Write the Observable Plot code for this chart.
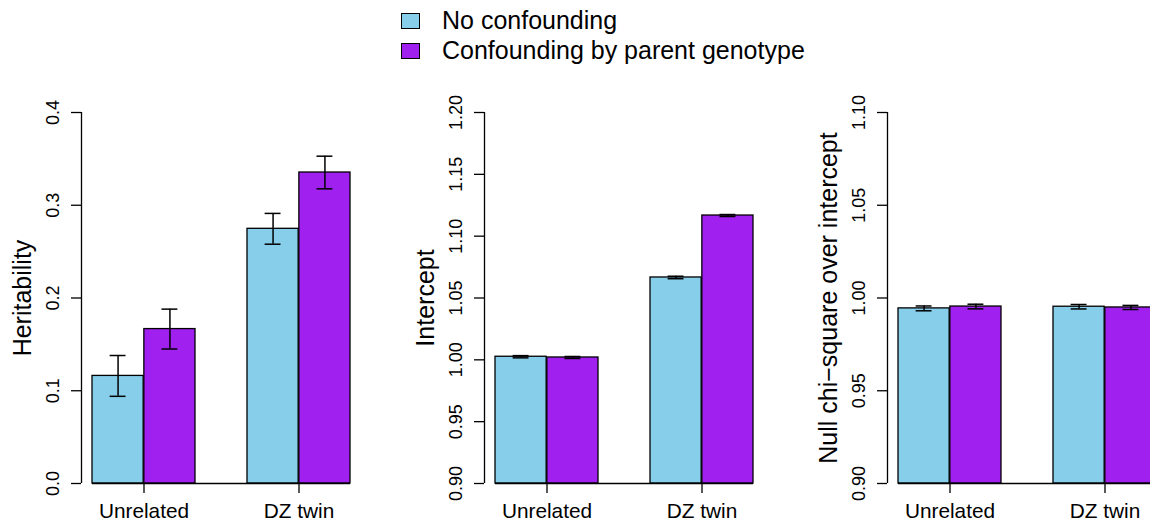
<!DOCTYPE html>
<html>
<head>
<meta charset="utf-8">
<script src="https://cdn.jsdelivr.net/npm/d3@7"></script>
<script src="https://cdn.jsdelivr.net/npm/@observablehq/plot@0.6"></script>
<style>
html, body { margin: 0; padding: 0; background: #fff; overflow: hidden; }
#wrap { position: relative; width: 1150px; height: 525px; overflow: hidden; font-family: "Liberation Sans", Arial, sans-serif; background: #fff; }
.panel { position: absolute; top: 0; }
.lg-box { position: absolute; width: 17px; height: 14px; border: 1.3px solid #000; }
.lg-text { position: absolute; font-size: 25px; line-height: 30px; white-space: nowrap; color: #000; }
</style>
</head>
<body>
<div id="wrap"></div>
<script>
// ---- data ----
const groups = ["Unrelated", "DZ twin"];
const series = ["No confounding", "Confounding by parent genotype"];
const colors = ["#87CEEB", "#A020F0"];

// order of values: [Unrelated/No, Unrelated/Conf, DZ/No, DZ/Conf]
const heritability    = [0.116, 0.1665, 0.2746, 0.3353];
const heritabilityErr = [0.022, 0.0215, 0.0166, 0.0176];
const heritabilityTicks = [0, 0.1, 0.2, 0.3, 0.4];

const intercept    = [1.0025, 1.0019, 1.0666, 1.1167];
const interceptErr = [0.0009, 0.0008, 0.0010, 0.0008];
const interceptTicks = [0.90, 0.95, 1.00, 1.05, 1.10, 1.15, 1.20];

const nullChisq    = [0.9944, 0.9954, 0.9953, 0.9949];
const nullChisqErr = [0.0013, 0.00125, 0.0012, 0.0011];
const nullChisqTicks = [0.90, 0.95, 1.00, 1.05, 1.10];

const panelLabels = ["Heritability", "Intercept", "Null chi\u2212square over intercept"];

// ---- layout ----
const ML = 81, PW = 280, MR = 30, SVGW = ML + PW + MR;
const MT = 112, H = 525, MB = 42;
const panelLeft = [0, 403.3, 806.2];
const padInner = 1 / 3, padOuter = 1 / 15;
const bw = PW / (2 - padInner + 2 * padOuter) * (1 - padInner);
const capHalf = 8.3;

const wrap = document.getElementById("wrap");

function makePanel(idx, label, values, errs, ticks, fmt) {
  const domain = [ticks[0], ticks[ticks.length - 1]];
  const rows = [];
  groups.forEach((g, gi) => series.forEach((s, si) => rows.push({
    group: g, series: s, si, value: values[gi * 2 + si], err: errs[gi * 2 + si]
  })));
  const marks = [];
  [0, 1].forEach(si => {
    const sub = rows.filter(d => d.si === si);
    marks.push(Plot.barY(sub, {
      x: "group", y1: domain[0], y2: "value", fill: "series",
      stroke: "black", strokeWidth: 1.3,
      insetLeft: si === 0 ? 0 : bw / 2, insetRight: si === 0 ? bw / 2 : 0
    }));
  });
  // x axis line along the bottom
  marks.push(Plot.ruleY([{y: domain[0], a: groups[0], b: groups[1]}], {
    y: "y", x1: "a", x2: "b", stroke: "black", strokeWidth: 1.3
  }));
  // error bars
  [0, 1].forEach(si => {
    const sub = rows.filter(d => d.si === si);
    const cx = si === 0 ? bw / 4 : 3 * bw / 4;
    marks.push(Plot.ruleX(sub, {
      x: "group", y1: d => d.value - d.err, y2: d => d.value + d.err,
      dx: cx - bw / 2, stroke: "black", strokeWidth: 1.5
    }));
    for (const sign of [-1, 1]) {
      marks.push(Plot.tickY(sub, {
        x: "group", y: d => d.value + sign * d.err,
        insetLeft: cx - capHalf, insetRight: bw - cx - capHalf,
        stroke: "black", strokeWidth: 1.5
      }));
    }
  });
  // y axis line
  marks.push(Plot.ruleX([0], {x: null, y1: domain[0], y2: domain[1], dx: -PW / 2, stroke: "black", strokeWidth: 1.3}));
  marks.push(Plot.axisY({
    ticks, tickFormat: d3.format(fmt), tickSize: 10, tickPadding: 13, tickRotate: -90,
    fontSize: 18, strokeWidth: 1.3, label: null
  }));
  marks.push(Plot.axisX({tickSize: 10, tickPadding: 10, fontSize: 20.8, strokeWidth: 1.3, label: null}));
  marks.push(Plot.text([label], {
    frameAnchor: "left", dx: -59, rotate: -90, textAnchor: "middle", lineAnchor: "middle",
    fontSize: 25, fill: "black"
  }));

  const chart = Plot.plot({
    width: SVGW, height: H,
    marginLeft: ML, marginRight: MR, marginTop: MT, marginBottom: MB,
    style: {fontFamily: "Liberation Sans, Arial, sans-serif", color: "black", background: "transparent", maxWidth: "none", overflow: "visible"},
    x: {domain: groups, paddingInner: padInner, paddingOuter: padOuter, axis: null},
    y: {domain, axis: null},
    color: {domain: series, range: colors},
    marks
  });
  const div = document.createElement("div");
  div.className = "panel";
  div.style.left = panelLeft[idx] + "px";
  div.style.width = SVGW + "px";
  div.appendChild(chart);
  wrap.appendChild(div);
}

makePanel(0, panelLabels[0], heritability, heritabilityErr, heritabilityTicks, ".1f");
makePanel(1, panelLabels[1], intercept, interceptErr, interceptTicks, ".2f");
makePanel(2, panelLabels[2], nullChisq, nullChisqErr, nullChisqTicks, ".2f");

// ---- legend ----
const boxTops = [12.7, 42.7];
const textTops = [5, 35];
series.forEach((s, i) => {
  const box = document.createElement("div");
  box.className = "lg-box";
  box.style.left = "401px";
  box.style.top = boxTops[i] + "px";
  box.style.background = colors[i];
  wrap.appendChild(box);
  const t = document.createElement("div");
  t.className = "lg-text";
  t.style.left = "442px";
  t.style.top = textTops[i] + "px";
  t.textContent = s;
  wrap.appendChild(t);
});
</script>
</body>
</html>
